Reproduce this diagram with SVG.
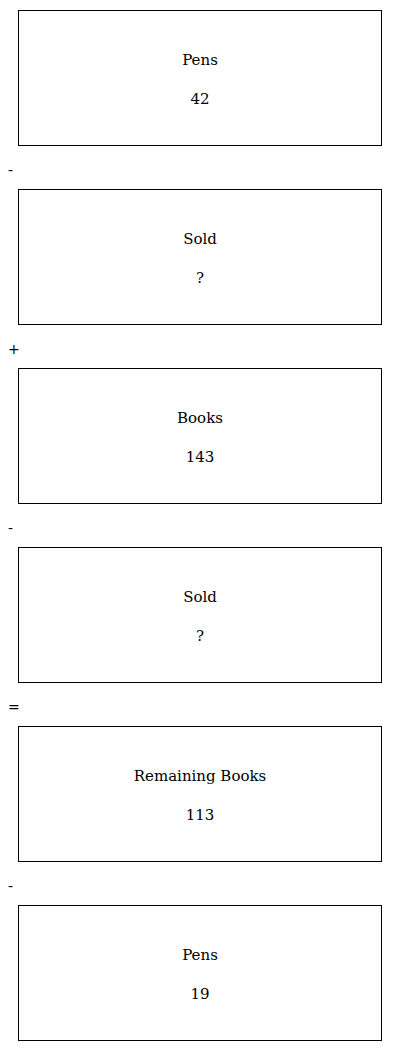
<svg xmlns="http://www.w3.org/2000/svg" width="400" height="1051" viewBox="0 0 400 1051">
<style>
rect.box{fill:#fff;stroke:#000;stroke-width:1}
text.t{font-family:"DejaVu Serif",serif;font-size:15px;text-anchor:middle;fill:#000}
text.op{font-family:"DejaVu Sans",sans-serif;font-size:14px;fill:#000}
</style>
<rect width="400" height="1051" fill="#fff"/>
<g id="n1"><rect class="box" x="18.5" y="10.5" width="363" height="135"/><text class="t" x="200" y="65">Pens</text><text class="t" x="200" y="104">42</text></g>
<g id="n2"><rect class="box" x="18.5" y="189.5" width="363" height="135"/><text class="t" x="200" y="244">Sold</text><text class="t" x="200" y="283">?</text></g>
<g id="n3"><rect class="box" x="18.5" y="368.5" width="363" height="135"/><text class="t" x="200" y="423">Books</text><text class="t" x="200" y="462">143</text></g>
<g id="n4"><rect class="box" x="18.5" y="547.5" width="363" height="135"/><text class="t" x="200" y="602">Sold</text><text class="t" x="200" y="641">?</text></g>
<g id="n5"><rect class="box" x="18.5" y="726.5" width="363" height="135"/><text class="t" x="200" y="781">Remaining Books</text><text class="t" x="200" y="820">113</text></g>
<g id="n6"><rect class="box" x="18.5" y="905.5" width="363" height="135"/><text class="t" x="200" y="960">Pens</text><text class="t" x="200" y="999">19</text></g>
<g id="connectors">
<text class="op" x="8" y="175">-</text>
<text class="op" x="8" y="354">+</text>
<text class="op" x="8" y="533">-</text>
<text class="op" x="8" y="712">=</text>
<text class="op" x="8" y="891">-</text>
</g>
</svg>
